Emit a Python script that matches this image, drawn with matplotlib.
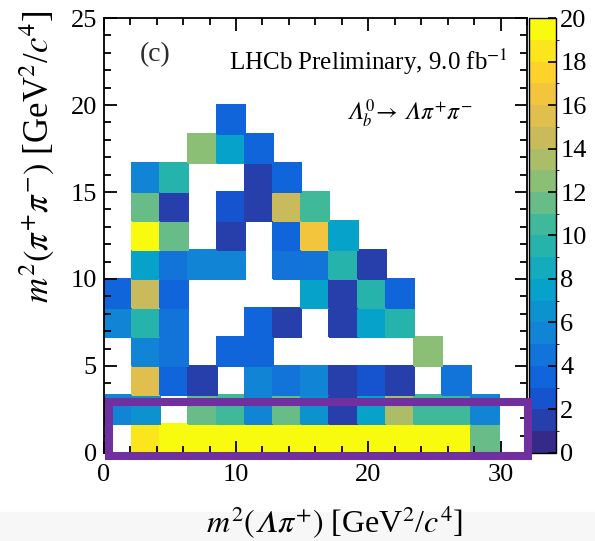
import numpy as np
import matplotlib
matplotlib.use('Agg')
import matplotlib.pyplot as plt
from matplotlib.colors import LinearSegmentedColormap, ListedColormap, BoundaryNorm
from matplotlib.patches import Rectangle
from matplotlib.ticker import MultipleLocator

plt.rcParams['font.family'] = ['Liberation Serif', 'DejaVu Serif']
plt.rcParams['mathtext.fontset'] = 'stix'

# histogram binning: 15 x 15 bins
x_lo, x_hi, nx = 0, 32, 15
y_lo, y_hi, ny = 0, 25, 15

# bin contents, one list per y-row from bottom to top (0 = empty bin)
row0 = [0, 18, 19, 20, 20, 20, 20, 20, 20, 20, 20, 20, 19, 11, 0]
row1 = [5, 6, 0, 11, 10, 5, 11, 6, 1, 7, 13, 10, 10, 5, 0]
row2 = [0, 15, 3, 1, 0, 5, 4, 5, 1, 2, 1, 0, 4, 0, 0]
row3 = [0, 5, 4, 0, 3, 3, 0, 0, 0, 0, 0, 12, 0, 0, 0]
row4 = [5, 9, 4, 0, 0, 3, 1, 0, 1, 7, 9, 0, 0, 0, 0]
row5 = [3, 14, 3, 0, 0, 0, 0, 7, 1, 9, 3, 0, 0, 0, 0]
row6 = [0, 7, 4, 5, 5, 0, 4, 4, 9, 1, 0, 0, 0, 0, 0]
row7 = [0, 20, 11, 0, 1, 0, 3, 16, 7, 0, 0, 0, 0, 0, 0]
row8 = [0, 11, 1, 0, 2, 1, 14, 10, 0, 0, 0, 0, 0, 0, 0]
row9 = [0, 5, 9, 0, 0, 1, 3, 0, 0, 0, 0, 0, 0, 0, 0]
row10 = [0, 0, 0, 12, 7, 3, 0, 0, 0, 0, 0, 0, 0, 0, 0]
row11 = [0, 0, 0, 0, 3, 0, 0, 0, 0, 0, 0, 0, 0, 0, 0]
row12 = [0] * 15
row13 = [0] * 15
row14 = [0] * 15

counts = np.array([row0, row1, row2, row3, row4, row5, row6, row7, row8, row9,
                   row10, row11, row12, row13, row14], dtype=float)
counts = np.ma.masked_where(counts <= 0, counts)

# ROOT kBird palette
stops = [0.0, 0.125, 0.25, 0.375, 0.5, 0.625, 0.75, 0.875, 1.0]
red = [0.2082, 0.0592, 0.0780, 0.0232, 0.1802, 0.5301, 0.8186, 0.9956, 0.9764]
green = [0.1664, 0.3599, 0.5041, 0.6419, 0.7178, 0.7492, 0.7328, 0.7862, 0.9832]
blue = [0.5293, 0.8684, 0.8385, 0.7914, 0.6425, 0.4662, 0.3499, 0.1968, 0.0539]
bird = LinearSegmentedColormap.from_list(
    'bird', [(s, (r, g, b)) for s, r, g, b in zip(stops, red, green, blue)])
ncont = 20
cmap = ListedColormap(bird(np.linspace(0, 1, ncont)))
norm = BoundaryNorm(np.linspace(0, 20, ncont + 1), ncont, clip=True)

LAM = '\U0001D6EC'  # italic capital lambda

fig = plt.figure(figsize=(5.95, 5.41), dpi=100)
fig.add_artist(Rectangle((0, 0), 1, 29 / 541, transform=fig.transFigure,
                         color='#f7f7f7', zorder=-1))
ax = fig.add_axes([0.1743, 0.1627, 0.7114, 0.8040])
cax = fig.add_axes([0.8890, 0.1627, 0.0455, 0.8040])

xe = np.linspace(x_lo, x_hi, nx + 1)
ye = np.linspace(y_lo, y_hi, ny + 1)
mesh = ax.pcolormesh(xe, ye, counts, cmap=cmap, norm=norm, edgecolor='face', lw=0.3)

ax.set_xlim(x_lo, x_hi)
ax.set_ylim(y_lo, y_hi)
ax.xaxis.set_major_locator(MultipleLocator(10))
ax.xaxis.set_minor_locator(MultipleLocator(2))
ax.yaxis.set_major_locator(MultipleLocator(5))
ax.yaxis.set_minor_locator(MultipleLocator(1))
ax.tick_params(which='both', direction='in', top=True, right=True, width=1.3, labelsize=19)
ax.tick_params(which='major', length=9)
ax.tick_params(which='minor', length=5)
ax.tick_params(axis='x', pad=8)
ax.tick_params(axis='y', pad=5)
for sp in ax.spines.values():
    sp.set_linewidth(1.3)

cb = fig.colorbar(mesh, cax=cax, ticks=np.arange(0, 21, 2))
cb.ax.tick_params(direction='in', length=6, width=1.2, labelsize=19, pad=3)
cb.outline.set_linewidth(1.0)

ax.text(0.121, 0.915, '(c)', transform=ax.transAxes, fontsize=20,
        ha='center', va='center', color='#2b2b2b')
ax.text(0.955, 0.899, r'LHCb Preliminary, 9.0 fb$^{-1}$', transform=ax.transAxes,
        fontsize=18, ha='right', va='center')
ax.text(0.87, 0.78, '$' + LAM + r'_b^0\!\rightarrow\,' + LAM + r'\pi^{+}\pi^{-}$',
        transform=ax.transAxes, fontsize=17, ha='right', va='center')

fig.text(37 / 595, 1 - 10 / 541, r'$m^2(\pi^{+}\pi^{-})$ [GeV$^2$/$c^4$]',
         rotation=90, ha='center', va='top', fontsize=25)
fig.text(463 / 595, 1 - 523 / 541, '$m^2(' + LAM + r'\pi^{+})$ [GeV$^2$/$c^4$]',
         ha='right', va='center', fontsize=23)

# highlight box around the lowest rows
fig.add_artist(Rectangle((0.4, -0.17), 31.65, 3.1, transform=ax.transData,
                         fill=False, edgecolor='#7030a0', lw=5.8, zorder=5))

fig.savefig('out.png', dpi=100)
